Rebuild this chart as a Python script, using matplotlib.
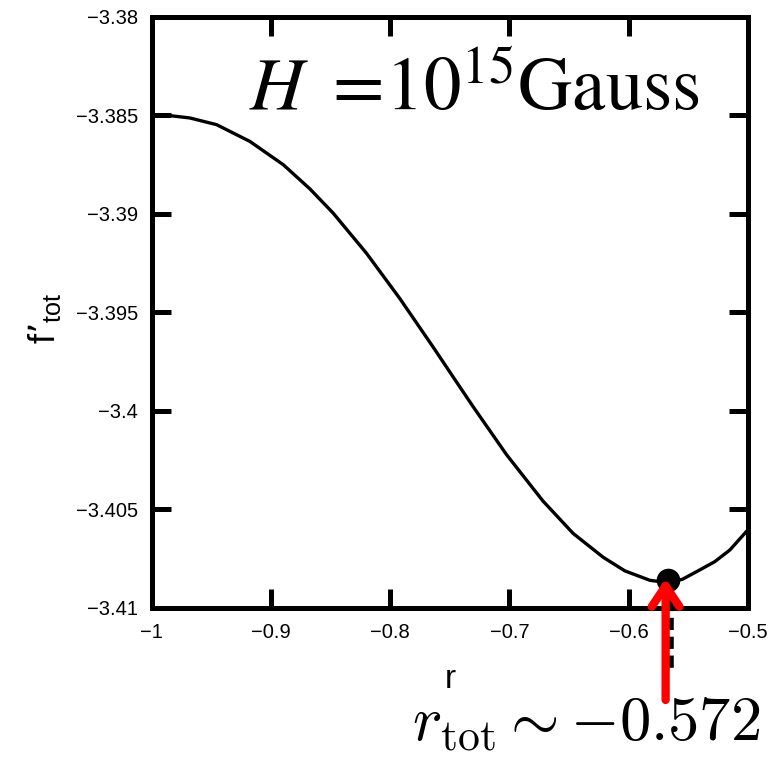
import matplotlib
matplotlib.use("Agg")
import matplotlib.pyplot as plt

plt.rcParams['font.family'] = ['Liberation Sans', 'DejaVu Sans']

# значения
r_vals = [-1.0, -0.9849, -0.9681, -0.9457, -0.9178, -0.8898, -0.8674, -0.8479,
          -0.8199, -0.7919, -0.7640, -0.7475, -0.7305, -0.7024, -0.6720, -0.6466,
          -0.6214, -0.6032, -0.5822, -0.5682, -0.555, -0.5403, -0.5277, -0.5151,
          -0.5]
f_vals = [-3.38500, -3.38502, -3.38514, -3.38548, -3.38633, -3.38751, -3.38874,
          -3.38997, -3.39201, -3.39431, -3.39677, -3.39826, -3.39979, -3.40223,
          -3.40457, -3.40622, -3.40743, -3.40812, -3.40860, -3.40871, -3.40855,
          -3.40807, -3.40765, -3.40706, -3.40604]
r_min = -0.567
f_min = -3.4086

xticks = [-1.0, -0.9, -0.8, -0.7, -0.6, -0.5]
xtick_labels = ["\u22121", "\u22120.9", "\u22120.8", "\u22120.7", "\u22120.6", "\u22120.5"]
yticks = [-3.41, -3.405, -3.4, -3.395, -3.39, -3.385, -3.38]
ytick_labels = ["\u22123.41", "\u22123.405", "\u22123.4", "\u22123.395", "\u22123.39",
                "\u22123.385", "\u22123.38"]

fig = plt.figure(figsize=(7.75, 7.58), dpi=100)
ax = fig.add_axes([0.196, 0.198, 0.769, 0.780])

ax.plot(r_vals, f_vals, color='black', lw=2.4, zorder=3)
ax.set_xlim(-1, -0.5)
ax.set_ylim(-3.41, -3.38)

ax.set_xticks(xticks)
ax.set_xticklabels(xtick_labels)
ax.set_yticks(yticks)
ax.set_yticklabels(ytick_labels)
ax.tick_params(direction='in', length=14, width=3.6, top=True, right=True,
               labelsize=14.5)
ax.tick_params(axis='y', pad=10)
ax.tick_params(axis='x', pad=11)
for s in ax.spines.values():
    s.set_linewidth(3.6)

ax.set_xlabel("r", fontsize=24)
ax.xaxis.set_label_coords(0.5, -0.095)
ax.set_ylabel("$\\mathregular{f\u2019_{tot}}$", fontsize=26)
ax.yaxis.set_label_coords(-0.15, 0.49)

# пунктир под минимумом
ax.plot([r_min + 0.0025, r_min + 0.0025], [f_min, -3.41315], color='black',
        lw=4, ls=(0, (2.2, 1.2)), clip_on=False, zorder=2)
ax.plot([r_min], [f_min], 'o', color='black', ms=16, clip_on=False, zorder=4)

ax.annotate("", xy=(r_min - 0.002, f_min + 0.0001), xytext=(r_min - 0.002, -3.41467),
            arrowprops=dict(arrowstyle='->, head_length=1.5, head_width=1.0',
                            color='red', lw=6, shrinkA=0, shrinkB=0),
            annotation_clip=False, zorder=5)

ax.text(0.92, 0.843, r"$H\ =\!10^{15}\mathrm{Gauss}$", transform=ax.transAxes,
        ha='right', va='baseline', fontsize=54, math_fontfamily='stix')

fig.text(0.981, 0.024, r"$r_{\rm tot}\sim {-}0.572$", ha='right', va='baseline',
         fontsize=45, math_fontfamily='cm')

fig.savefig("out.png", dpi=100)
